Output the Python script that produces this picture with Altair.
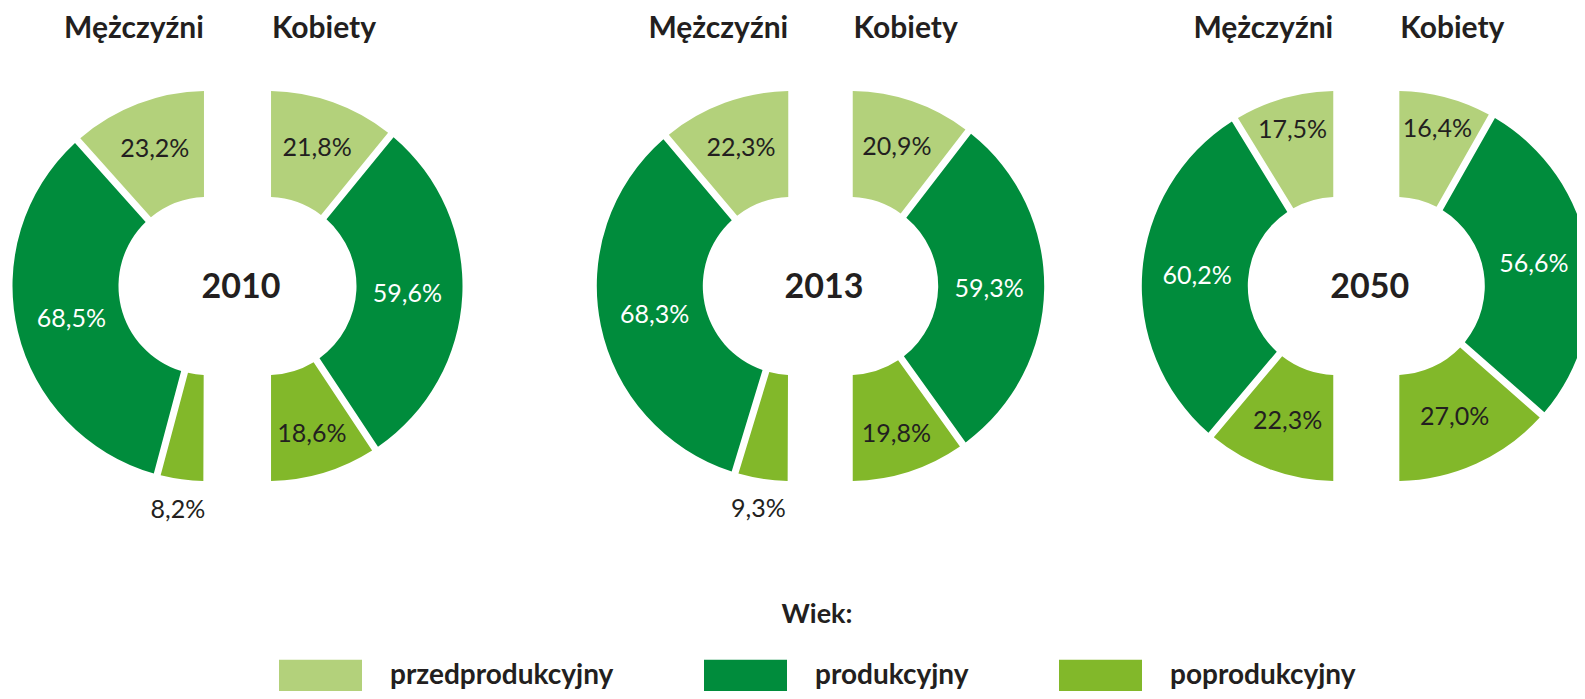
import math
import pandas as pd
import altair as alt

# ---------------- data ----------------
years = ["2010", "2013", "2050"]
groups = ["przedprodukcyjny", "produkcyjny", "poprodukcyjny"]
colors = ["#B3D17B", "#008C3C", "#82B82A"]
men_2010 = [23.2, 68.5, 8.2]
women_2010 = [21.8, 59.6, 18.6]
men_2013 = [22.3, 68.3, 9.3]
women_2013 = [20.9, 59.3, 19.8]
men_2050 = [17.5, 60.2, 22.3]
women_2050 = [16.4, 56.6, 27.0]
sex_titles = {"M": "Mężczyźni", "K": "Kobiety"}
legend_title = "Wiek:"

rows = []
for y, m, k in zip(years, [men_2010, men_2013, men_2050], [women_2010, women_2013, women_2050]):
    for sex, vals in (("M", m), ("K", k)):
        for i, (g, v) in enumerate(zip(groups, vals)):
            rows.append({"year": y, "sex": sex, "group": g, "idx": i, "value": v,
                         "label": f"{v:.1f}".replace(".", ",") + "%"})
df = pd.DataFrame(rows)

# ---------------- layout / style ----------------
W, H = 1569, 683
CY = 278
centers = {"2010": (199.5, 259.5), "2013": (783.8, 841.2), "2050": (1328.8, 1387.8)}
R_OUT, R_IN = 195, 89
PAD = 0.033
FONT = "Lato"
TXT = "#231F20"

color_enc = alt.Color(
    "group:N",
    scale=alt.Scale(domain=groups, range=colors),
    legend=alt.Legend(
        title=legend_title, orient="none", legendX=271, legendY=594,
        direction="horizontal",
        symbolType="M-1,-0.386H1V0.386H-1Z", symbolSize=6889,
        symbolStrokeWidth=0, symbolOpacity=1,
        labelFont=FONT, labelFontSize=28, labelFontWeight="bold", labelColor=TXT,
        labelLimit=500, labelOffset=28,
        titleFont=FONT, titleFontSize=27, titleFontWeight="bold", titleColor=TXT,
        titleAnchor="middle", titlePadding=5, columnPadding=90,
    ),
    sort=groups,
)

# label placement rules (radius of the label from the donut centre)
label_classes = [
    ("datum.value >= 10 && datum.group == 'przedprodukcyjny' && datum.value >= 19", 148),
    ("datum.value >= 10 && datum.group == 'przedprodukcyjny' && datum.value < 19", 163),
    ("datum.value >= 10 && datum.group == 'produkcyjny'", 140),
    ("datum.value >= 10 && datum.group == 'poprodukcyjny' && datum.value < 21", 154),
    ("datum.value >= 10 && datum.group == 'poprodukcyjny' && datum.value >= 21", 143),
    ("datum.value < 10", 225),
]

layers = []
for year in years:
    cxL, cxR = centers[year]
    for sex in ("M", "K"):
        cx = cxL if sex == "M" else cxR
        rng = [2 * math.pi, math.pi] if sex == "M" else [0, math.pi]
        sc = alt.Scale(domain=[0, 100], range=rng)
        base = (
            alt.Chart(df)
            .transform_filter(f"datum.year == '{year}' && datum.sex == '{sex}'")
            .transform_stack(stack="value", groupby=["year", "sex"], as_=["v0", "v1"],
                             sort=[alt.SortField(field="idx", order="ascending")])
            .transform_calculate(mid="(datum.v0 + datum.v1) / 2")
        )
        arc = base.mark_arc(innerRadius=R_IN, outerRadius=R_OUT, padAngle=PAD).encode(
            theta=alt.Theta("v0:Q", scale=sc, stack=None),
            theta2="v1:Q",
            color=color_enc,
            x=alt.value(cx), y=alt.value(CY),
        )
        layers.append(arc)
        for cond, r in label_classes:
            t = base.transform_filter(cond).mark_text(
                radius=r, font=FONT, fontSize=25, align="center", baseline="middle", dy=1
            ).encode(
                theta=alt.Theta("mid:Q", scale=sc, stack=None),
                text="label:N",
                color=alt.condition("datum.group == 'produkcyjny' && datum.value >= 10",
                                    alt.value("white"), alt.value(TXT)),
                x=alt.value(cx), y=alt.value(CY),
            )
            layers.append(t)
        # half title
        tx = cx - 73.5 if sex == "M" else cx + 56.5
        title = alt.Chart(pd.DataFrame({"t": [sex_titles[sex]]})).mark_text(
            font=FONT, fontSize=30, fontWeight="bold", color=TXT, align="center",
            baseline="alphabetic"
        ).encode(text="t:N", x=alt.value(tx), y=alt.value(30))
        layers.append(title)
    yr = alt.Chart(pd.DataFrame({"t": [year]})).mark_text(
        font=FONT, fontSize=34, fontWeight="bold", color=TXT, align="center",
        baseline="middle", dy=2
    ).encode(text="t:N", x=alt.value((cxL + cxR) / 2 + 3.5), y=alt.value(CY))
    layers.append(yr)

chart = (
    alt.layer(*layers)
    .resolve_scale(theta="independent")
    .properties(width=W, height=H, autosize=alt.AutoSizeParams(type="none"), padding=0,
                background="white")
    .configure_view(stroke=None)
)

chart.save("out.html", embed_options={"renderer": "svg", "actions": False})
